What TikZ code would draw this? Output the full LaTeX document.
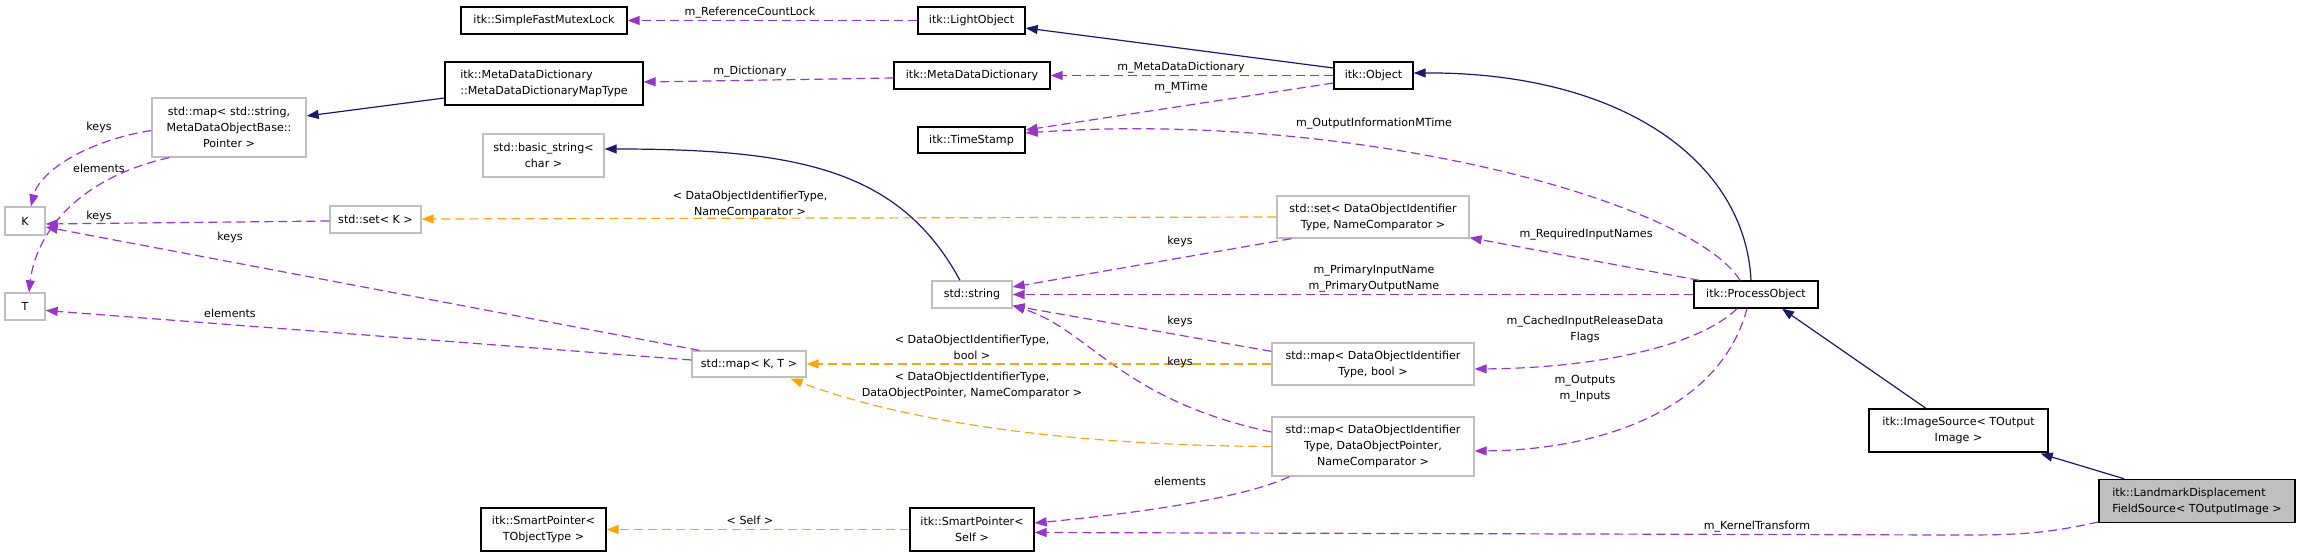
\documentclass[tikz,border=0pt]{standalone}
\usepackage{fontspec}
\setmainfont{DejaVu Sans}
\usetikzlibrary{arrows.meta,calc}
\definecolor{navy}{HTML}{191970}
\definecolor{dpurple}{HTML}{9A32CD}
\definecolor{dorange}{HTML}{FFA500}
\definecolor{bgray}{HTML}{BFBFBF}
\begin{document}
\begin{tikzpicture}[x=1pt,y=-1pt,
  font=\fontsize{11.1}{16}\selectfont,
  cls/.style={draw=black, line width=1.3pt, fill=white, inner sep=0pt, align=center},
  std/.style={cls, draw=bgray},
  pe/.style={draw=dpurple, line width=1.2pt, dash pattern=on 9pt off 5pt, -{Triangle[length=12pt,width=9pt,fill=dpurple]}},
  oe/.style={draw=dorange, line width=1.2pt, dash pattern=on 9pt off 5pt, -{Triangle[length=12pt,width=9pt,fill=dorange]}},
  ne/.style={draw=navy, line width=1.2pt, -{Triangle[length=12pt,width=9pt,fill=navy]}},
  lbl/.style={inner sep=0pt, align=center}]
\useasboundingbox (0,0) rectangle (2301,556);
% nodes
\node[cls, minimum width=166pt, minimum height=27pt] (smfl) at (544,20.5) {itk::SimpleFastMutexLock};
\node[cls, minimum width=107pt, minimum height=27pt] (light) at (971.5,20.5) {itk::LightObject};
\node[cls, minimum width=198pt, minimum height=43pt, align=left] (mddmt) at (544,83.5) {itk::MetaDataDictionary\\::MetaDataDictionaryMapType};
\node[cls, minimum width=156pt, minimum height=27pt] (mdd) at (972,75.5) {itk::MetaDataDictionary};
\node[cls, minimum width=79pt, minimum height=27pt] (obj) at (1373.5,75.5) {itk::Object};
\node[std, minimum width=154pt, minimum height=59pt] (mapstr) at (229,127.5) {std::map< std::string,\\MetaDataObjectBase::\\Pointer >};
\node[std, minimum width=121pt, minimum height=43pt] (bstr) at (543.5,155.5) {std::basic\_string<\\char >};
\node[cls, minimum width=107pt, minimum height=26pt] (ts) at (971.5,140) {itk::TimeStamp};
\node[std, minimum width=40pt, minimum height=28pt] (K) at (25,221) {K};
\node[std, minimum width=91pt, minimum height=27pt] (setK) at (375.5,219.5) {std::set< K >};
\node[std, minimum width=192pt, minimum height=42pt] (setDO) at (1373,217) {std::set< DataObjectIdentifier\\Type, NameComparator >};
\node[std, minimum width=40pt, minimum height=27pt] (T) at (25,306.5) {T};
\node[std, minimum width=80pt, minimum height=27pt] (stdstr) at (972,294.5) {std::string};
\node[cls, minimum width=124pt, minimum height=27pt] (po) at (1756,294.5) {itk::ProcessObject};
\node[std, minimum width=114pt, minimum height=26pt] (mapKT) at (749,364) {std::map< K, T >};
\node[std, minimum width=202pt, minimum height=42pt] (mapbool) at (1373,364) {std::map< DataObjectIdentifier\\Type, bool >};
\node[std, minimum width=202pt, minimum height=59pt] (mapdop) at (1373,446.5) {std::map< DataObjectIdentifier\\Type, DataObjectPointer,\\NameComparator >};
\node[cls, minimum width=179pt, minimum height=43pt] (imgsrc) at (1958.5,430.5) {itk::ImageSource< TOutput\\Image >};
\node[cls, fill=bgray, minimum width=196pt, minimum height=43pt, align=left] (lmk) at (2197,501) {itk::LandmarkDisplacement\\FieldSource< TOutputImage >};
\node[cls, minimum width=125pt, minimum height=43pt] (spT) at (543.5,529.5) {itk::SmartPointer<\\TObjectType >};
\node[cls, minimum width=124pt, minimum height=43pt] (spS) at (972,529.5) {itk::SmartPointer<\\Self >};
% edges
\draw[pe] (light.west) -- (smfl.east);
\draw[ne] ($(obj.west)+(0,-7.5)$) -- ($(light.east)+(0,7.5)$);
\draw[pe] ($(mdd.west)+(0,2.5)$) -- ($(mddmt.east)+(0,-1.5)$);
\draw[ne] ($(mddmt.west)+(0,14.5)$) -- ($(mapstr.east)+(0,-11.5)$);
\draw[pe] (obj.west) -- (mdd.east);
\draw[pe] ($(obj.west)+(0,7.5)$) -- ($(ts.east)+(0,-10)$);
\draw[ne] ($(po.north)+(-5,0)$) .. controls (1745,160) and (1620,72) .. ($(obj.east)+(0,-2.5)$);
\draw[pe] ($(po.north)+(-16,0)$) .. controls (1690,200) and (1350,110) .. ($(ts.east)+(0,-7)$);
\draw[pe] ($(po.north west)+(6,0)$) -- ($(setDO.south east)+(0,-1)$);
\draw[pe] (po.west) -- (stdstr.east);
\draw[pe] ($(po.south)+(-19,0)$) .. controls (1700,345) and (1600,368) .. ($(mapbool.east)+(0,5)$);
\draw[pe] ($(po.south)+(-9,0)$) .. controls (1720,410) and (1600,450) .. ($(mapdop.east)+(0,4.5)$);
\draw[ne] ($(imgsrc.north)+(-32.5,0)$) -- ($(po.south)+(26,0)$);
\draw[ne] ($(lmk.north west)+(26,0)$) -- ($(imgsrc.south east)+(-8,1)$);
\coordinate (kt) at (1950,535);
\draw[pe] ($(lmk.west)+(0,21)$) .. controls (2040,535) and (2010,535) .. (kt) -- ($(spS.east)+(0,3)$);
\draw[oe] (spS.west) -- (spT.east);
\draw[pe] ($(mapdop.south west)+(18,0)$) .. controls (1240,500) and (1120,515) .. ($(spS.east)+(0,-6.5)$);
\draw[pe] ($(setDO.south west)+(15,0)$) -- ($(stdstr.east)+(0,-7.5)$);
\draw[pe] ($(mapbool.north west)+(0,9)$) -- ($(stdstr.south east)+(0,-3)$);
\draw[pe] ($(mapdop.west)+(0,-14.5)$) .. controls (1120,400) and (1090,330) .. ($(stdstr.south east)+(0,-3)$);
\draw[oe] (setDO.west) -- ($(setK.east)+(0,-0.5)$);
\draw[oe] (mapbool.west) -- (mapKT.east);
\draw[oe] (mapdop.west) .. controls (1000,445) and (860,405) .. ($(mapKT.south east)+(-16,1)$);
\draw[pe] ($(mapKT.north west)+(8,0)$) -- ($(K.east)+(0,6)$);
\draw[pe] ($(mapKT.west)+(0,-4)$) -- ($(T.east)+(0,4)$);
\draw[pe] ($(setK.west)+(0,1.5)$) -- ($(K.east)+(0,3)$);
\draw[pe] ($(mapstr.west)+(0,3)$) .. controls (90,140) and (40,170) .. ($(K.north)+(6,0)$);
\draw[pe] ($(mapstr.south west)+(18,0)$) .. controls (70,180) and (35,240) .. ($(T.north)+(4,0)$);
\draw[ne] ($(stdstr.north)+(-12,0)$) .. controls (900,170) and (800,149) .. ($(bstr.east)+(0,-6.5)$);
% labels
\node[lbl] (l1) at (750,13) {m\_ReferenceCountLock};
\node[lbl] (l3) at (750,72) {m\_Dictionary};
\node[lbl] (l5) at (1181,68) {m\_MetaDataDictionary};
\node[lbl] (l6) at (1181,88) {m\_MTime};
\node[lbl] (l8) at (1374,124) {m\_OutputInformationMTime};
\node[lbl] (l9) at (1586,235) {m\_RequiredInputNames};
\node[lbl] (l10) at (1374,279) {m\_PrimaryInputName\\m\_PrimaryOutputName};
\node[lbl] (l11) at (1585,329) {m\_CachedInputReleaseData\\Flags};
\node[lbl] (l12) at (1585,389) {m\_Outputs\\m\_Inputs};
\node[lbl] (l15) at (1757,527) {m\_KernelTransform};
\node[lbl] (l16) at (750,520) {< Self >};
\node[lbl] (l17) at (1180,481) {elements};
\node[lbl] (l18) at (1180,241) {keys};
\node[lbl] (l19) at (1180,321) {keys};
\node[lbl] (l20) at (1180,362) {keys};
\node[lbl] (l21) at (750,204) {< DataObjectIdentifierType,\\NameComparator >};
\node[lbl] (l22) at (972,347) {< DataObjectIdentifierType,\\bool >};
\node[lbl] (l23) at (972,385) {< DataObjectIdentifierType,\\DataObjectPointer, NameComparator >};
\node[lbl] (l24) at (230,237) {keys};
\node[lbl] (l25) at (230,313) {elements};
\node[lbl] (l26) at (99,216) {keys};
\node[lbl] (l27) at (99,127) {keys};
\node[lbl] (l28) at (99,168) {elements};
\end{tikzpicture}
\end{document}
